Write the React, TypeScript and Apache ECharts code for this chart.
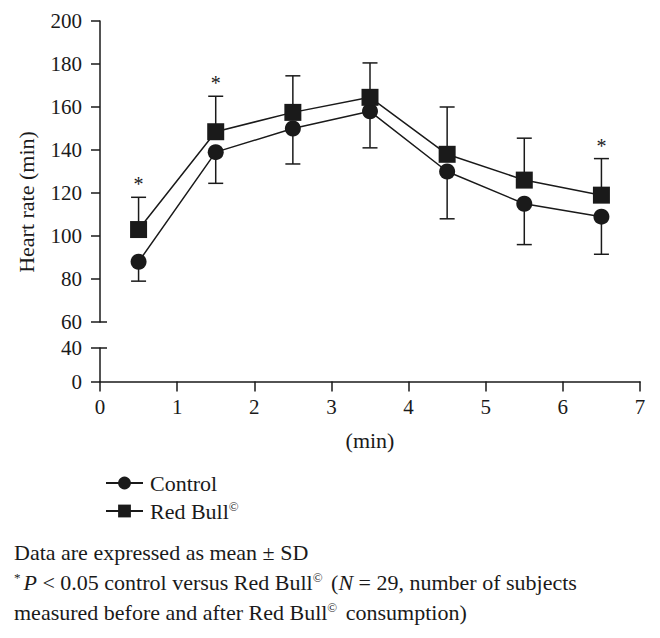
import { useEffect, useRef } from 'react';
import * as echarts from 'echarts';

// time points (min) and heart rate values
const timePoints = [0.5, 1.5, 2.5, 3.5, 4.5, 5.5, 6.5];
const controlMean = [88, 139, 150, 158, 130, 115, 109];
const controlLower = [79, 124.5, 133.5, 141, 108, 96, 91.5];
const redBullMean = [103, 148.5, 157.5, 164.5, 138, 126, 119];
const redBullUpper = [118, 165, 174.5, 180.5, 160, 145.5, 136];
const significant = [1, 1, 0, 0, 0, 0, 1];

const upperTicks = [60, 200];
const lowerTicks = [0, 40];
const xTicks = [0, 7];

const FONT = 'Liberation Serif, DejaVu Serif, serif';
const INK = '#1a1a1a';

const labelStyle = { color: INK, fontSize: 21, fontFamily: FONT };
const axisLine = { show: true, lineStyle: { color: INK, width: 1.5 } };

function errorBar(params: any, api: any) {
  const x = api.value(0);
  const p0 = api.coord([x, api.value(1)]);
  const p1 = api.coord([x, api.value(2)]);
  const half = 7.5;
  const style = { stroke: INK, lineWidth: 1.5 };
  const children: any[] = [
    { type: 'line', shape: { x1: p0[0], y1: p0[1], x2: p1[0], y2: p1[1] }, style },
    { type: 'line', shape: { x1: p1[0] - half, y1: p1[1], x2: p1[0] + half, y2: p1[1] }, style },
  ];
  if (api.value(3)) {
    children.push({
      type: 'text',
      style: {
        text: '*',
        x: p1[0],
        y: p1[1] - 3,
        align: 'center',
        verticalAlign: 'bottom',
        fontSize: 20,
        fontFamily: FONT,
        fill: INK,
      },
    });
  }
  return { type: 'group', children };
}

export default function App() {
  const chartRef = useRef<HTMLDivElement>(null);

  useEffect(() => {
    document.body.style.margin = '0';
    if (!chartRef.current) return;
    const chart = echarts.init(chartRef.current, null, { renderer: 'svg' });

    const option: any = {
      animation: false,
      backgroundColor: '#fff',
      grid: [
        { left: 100, right: 20, top: 21, height: 301 },
        { left: 100, right: 20, top: 348, height: 33.6 },
      ],
      xAxis: [
        { gridIndex: 0, type: 'value', min: xTicks[0], max: xTicks[1], show: false },
        {
          gridIndex: 1,
          type: 'value',
          min: xTicks[0],
          max: xTicks[1],
          interval: 1,
          axisLine,
          axisTick: { show: true, length: 10, lineStyle: { color: INK, width: 1.5 } },
          axisLabel: { ...labelStyle, margin: 15 },
          splitLine: { show: false },
          name: '(min)',
          nameLocation: 'middle',
          nameGap: 48,
          nameTextStyle: { ...labelStyle, fontSize: 22 },
        },
      ],
      yAxis: [
        {
          gridIndex: 0,
          type: 'value',
          position: 'left',
          min: upperTicks[0],
          max: upperTicks[1],
          interval: 20,
          axisLine,
          axisTick: { show: true, length: 9, lineStyle: { color: INK, width: 1.5 } },
          axisLabel: { ...labelStyle, margin: 18 },
          splitLine: { show: false },
        },
        {
          gridIndex: 1,
          type: 'value',
          position: 'left',
          min: lowerTicks[0],
          max: lowerTicks[1],
          interval: 40,
          axisLine,
          axisTick: { show: true, length: 9, lineStyle: { color: INK, width: 1.5 } },
          axisLabel: { ...labelStyle, margin: 18 },
          splitLine: { show: false },
        },
        {
          gridIndex: 0,
          type: 'value',
          position: 'left',
          offset: 0,
          min: upperTicks[0],
          max: upperTicks[1],
          axisLine: { show: false },
          axisLabel: { show: false },
          splitLine: { show: false },
          axisTick: {
            show: true,
            inside: true,
            length: 7,
            customValues: [upperTicks[0]],
            lineStyle: { color: INK, width: 1.5 },
          },
        },
        {
          gridIndex: 1,
          type: 'value',
          position: 'left',
          offset: 0,
          min: lowerTicks[0],
          max: lowerTicks[1],
          axisLine: { show: false },
          axisLabel: { show: false },
          splitLine: { show: false },
          axisTick: {
            show: true,
            inside: true,
            length: 7,
            customValues: [lowerTicks[1]],
            lineStyle: { color: INK, width: 1.5 },
          },
        },
      ],
      legend: {
        data: ['Control', 'Red Bull'],
        orient: 'vertical',
        left: 100,
        top: 467,
        itemWidth: 37,
        itemHeight: 16,
        itemGap: 6,
        formatter: (name: string) => (name === 'Red Bull' ? 'Red Bull{sup|©}' : name),
        textStyle: {
          ...labelStyle,
          fontSize: 22,
          lineHeight: 22,
          padding: [0, 0, 0, 2],
          rich: {
            sup: { fontSize: 13, fontFamily: FONT, color: INK, verticalAlign: 'top', lineHeight: 22 },
          },
        },
      },
      series: [
        {
          name: 'Control SD',
          type: 'custom',
          xAxisIndex: 0,
          yAxisIndex: 0,
          renderItem: errorBar,
          encode: { x: 0, y: [1, 2] },
          data: timePoints.map((t, i) => [t, controlMean[i], controlLower[i], 0]),
          z: 1,
        },
        {
          name: 'Red Bull SD',
          type: 'custom',
          xAxisIndex: 0,
          yAxisIndex: 0,
          renderItem: errorBar,
          encode: { x: 0, y: [1, 2] },
          data: timePoints.map((t, i) => [t, redBullMean[i], redBullUpper[i], significant[i]]),
          z: 1,
        },
        {
          name: 'Control',
          type: 'line',
          xAxisIndex: 0,
          yAxisIndex: 0,
          data: timePoints.map((t, i) => [t, controlMean[i]]),
          symbol: 'circle',
          symbolSize: 16,
          lineStyle: { color: INK, width: 1.5 },
          itemStyle: { color: INK },
          z: 3,
        },
        {
          name: 'Red Bull',
          type: 'line',
          xAxisIndex: 0,
          yAxisIndex: 0,
          data: timePoints.map((t, i) => [t, redBullMean[i]]),
          symbol: 'rect',
          symbolSize: 17,
          lineStyle: { color: INK, width: 1.5 },
          itemStyle: { color: INK },
          z: 3,
        },
      ],
      graphic: [
        {
          type: 'text',
          x: 26,
          y: 202,
          rotation: Math.PI / 2,
          style: {
            text: 'Heart rate (min)',
            fill: INK,
            fontSize: 22,
            fontFamily: FONT,
            align: 'center',
            verticalAlign: 'middle',
          },
        },
        {
          type: 'text',
          left: 14,
          top: 537,
          style: {
            text: [
              'Data are expressed as mean ± SD',
              '{sup|*}{it|P} < 0.05 control versus Red Bull{sup|©} ({it|N} = 29, number of subjects',
              'measured before and after Red Bull{sup|©} consumption)',
            ].join('\n'),
            fill: INK,
            fontSize: 22,
            fontFamily: FONT,
            lineHeight: 30,
            rich: {
              sup: { fontSize: 13, fontFamily: FONT, fill: INK, verticalAlign: 'top', lineHeight: 30, padding: [4, 3, 0, 0] },
              it: { fontSize: 22, fontFamily: FONT, fontStyle: 'italic', fill: INK, lineHeight: 30 },
            },
          },
        },
      ],
    };

    chart.setOption(option);
    return () => chart.dispose();
  }, []);

  return <div ref={chartRef} style={{ width: 660, height: 638 }} />;
}
